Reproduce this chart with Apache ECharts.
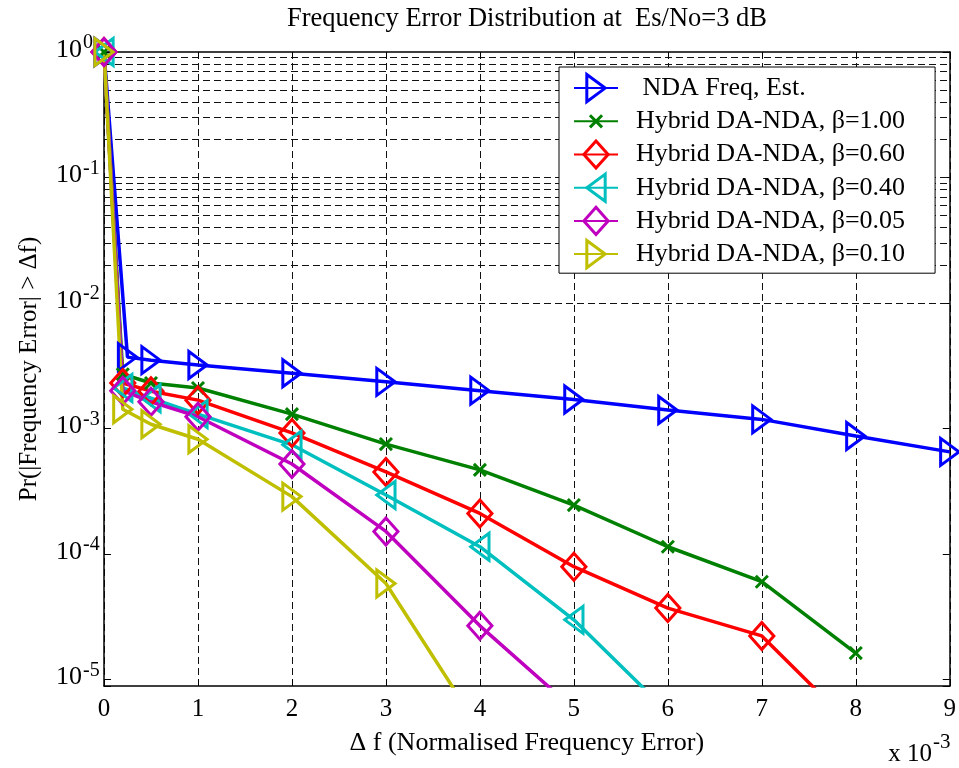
<!DOCTYPE html>
<html>
<head>
<meta charset="utf-8">
<script src="https://cdn.jsdelivr.net/npm/echarts@6/dist/echarts.min.js"></script>
<style>
  html, body { margin: 0; padding: 0; background: #fff; }
  #chart { width: 959px; height: 768px; }
</style>
</head>
<body>
<div id="chart"></div>
<script>
// Frequency-error tail probabilities, Pr(|error| > Δf), Δf in units of 1e-3
const seriesNames = [
  ' NDA Freq, Est.',
  'Hybrid DA-NDA, β=1.00',
  'Hybrid DA-NDA, β=0.60',
  'Hybrid DA-NDA, β=0.40',
  'Hybrid DA-NDA, β=0.05',
  'Hybrid DA-NDA, β=0.10'
];

const xNda = [0, 0.25, 0.5, 1, 2, 3, 4, 5, 6, 7, 8, 9];
const ndaValues = [1, 3.7e-3, 3.5e-3, 3.2e-3, 2.75e-3, 2.35e-3, 2.0e-3, 1.7e-3, 1.4e-3, 1.18e-3, 8.7e-4, 6.5e-4];

const xHybrid = [0, 0.2, 0.5, 1, 2, 3, 4, 5, 6, 7, 8];
const beta100 = [1, 2.7e-3, 2.3e-3, 2.1e-3, 1.3e-3, 7.5e-4, 4.67e-4, 2.45e-4, 1.14e-4, 6.0e-5, 1.62e-5];
const beta060 = [1, 2.3e-3, 1.98e-3, 1.68e-3, 9.2e-4, 4.5e-4, 2.1e-4, 7.9e-5, 3.7e-5, 2.22e-5, 4.0e-6];
const beta040 = [1, 2.1e-3, 1.74e-3, 1.3e-3, 7.4e-4, 2.95e-4, 1.14e-4, 2.98e-5, 5.5e-6];
const beta005 = [1, 2.0e-3, 1.63e-3, 1.24e-3, 5.2e-4, 1.51e-4, 2.67e-5, 5.8e-6];
const beta010 = [1, 1.42e-3, 1.08e-3, 8.2e-4, 2.86e-4, 5.8e-5, 4.0e-6];

const xTicks = [0, 1, 2, 3, 4, 5, 6, 7, 8, 9];
const decadeExponents = [-5, -4, -3, -2, -1, 0];
const minorMultipliers = [2, 3, 4, 5, 6, 7, 8, 9];

const FONT = 'Liberation Serif';
const colors = ['#0000ff', '#008000', '#ff0000', '#00bfbf', '#bf00bf', '#bfbf00'];

// Marker outlines; extra move-to points widen the box so the shapes keep their proportions
const TRI_RIGHT = 'path://M-0.24,0M1.24,0M0,0L1,0.5L0,1Z';
const TRI_LEFT = 'path://M-0.24,0M1.24,0M1,0L0,0.5L1,1Z';
const DIAMOND = 'path://M-0.06,0.5M1.06,0.5M0.5,0L1,0.5L0.5,1L0,0.5Z';
const CROSS = 'path://M-0.62,-0.62M1.62,1.62M0,0L1,1M1,0L0,1';

const yMin = Math.pow(10, -5.053);
const yMax = 1;

const gridDash = { type: [7, 4], color: '#111', width: 1 };

// Horizontal log grid: decades plus 2..9 subdivisions
const hLines = [];
decadeExponents.slice(0, -1).forEach(e => {
  hLines.push(Math.pow(10, e));
  minorMultipliers.forEach(m => hLines.push(m * Math.pow(10, e)));
});

function decadeExponent(v) {
  const e = Math.log10(v);
  const r = Math.round(e);
  return Math.abs(e - r) > 1e-6 ? null : r;
}

function pairs(xs, ys) {
  return ys.map((y, i) => [xs[i], y]);
}

function curve(name, color, symbol, xs, ys) {
  return {
    name: name,
    type: 'line',
    data: pairs(xs, ys),
    symbol: symbol,
    symbolSize: 27,
    showAllSymbol: true,
    clip: true,
    lineStyle: { color: color, width: 3.5 },
    itemStyle: { color: 'transparent', borderColor: color, borderWidth: 3 },
    emphasis: { disabled: true },
    z: 3
  };
}

const axisBox = {
  axisLine: { show: true, onZero: false, lineStyle: { color: '#000', width: 1.5 } },
  axisTick: { show: true, inside: true, length: 7, lineStyle: { color: '#000' } }
};

const chart = echarts.init(document.getElementById('chart'), null, { renderer: 'canvas' });

chart.setOption({
  animation: false,
  backgroundColor: '#fff',
  grid: { left: 104, top: 52, width: 846, height: 634, containLabel: false },
  graphic: [
    {
      type: 'text', x: 527, y: 19,
      style: {
        text: 'Frequency Error Distribution at  Es/No=3 dB',
        fontFamily: FONT, fontSize: 26.5, fill: '#000',
        align: 'center', verticalAlign: 'middle'
      }
    },
    {
      type: 'text', x: 932, y: 754,
      style: { text: 'x 10', fontFamily: FONT, fontSize: 25, fill: '#000', align: 'right', verticalAlign: 'middle' }
    },
    {
      type: 'text', x: 933, y: 742,
      style: { text: '-3', fontFamily: FONT, fontSize: 21, fill: '#000', align: 'left', verticalAlign: 'middle' }
    }
  ],
  legend: {
    data: seriesNames,
    orient: 'vertical',
    left: 559,
    top: 67,
    z: 10,
    padding: [6, 30, 4, 14],
    itemWidth: 44,
    itemHeight: 34,
    itemGap: 3,
    backgroundColor: '#fff',
    borderColor: '#000',
    borderWidth: 1,
    selectedMode: false,
    itemStyle: { borderWidth: 3 },
    formatter: name => '  ' + name,
    textStyle: { fontFamily: FONT, fontSize: 26, color: '#000' }
  },
  xAxis: [
    Object.assign({
      type: 'value', min: 0, max: 9, interval: 1, position: 'bottom',
      name: 'Δ f (Normalised Frequency Error)',
      nameLocation: 'middle', nameGap: 44,
      nameTextStyle: { fontFamily: FONT, fontSize: 26, color: '#000' },
      axisLabel: { fontFamily: FONT, fontSize: 25, color: '#000', margin: 11,
                   formatter: v => xTicks.indexOf(v) >= 0 ? String(v) : '' },
      splitLine: { show: true, lineStyle: gridDash }
    }, axisBox),
    Object.assign({
      type: 'value', min: 0, max: 9, interval: 1, position: 'top',
      axisLabel: { show: false },
      splitLine: { show: false }
    }, axisBox)
  ],
  yAxis: [
    // left axis: mantissa "10" of each decade label
    Object.assign({
      type: 'log', logBase: 10, min: yMin, max: yMax, position: 'left',
      name: 'Pr(|Frequency Error| > Δf)',
      nameLocation: 'middle', nameGap: 62, nameRotate: 90,
      nameTextStyle: { fontFamily: FONT, fontSize: 25, color: '#000' },
      axisLabel: {
        fontFamily: FONT, fontSize: 26, color: '#000',
        margin: 22, align: 'right',
        verticalAlign: 'bottom', lineHeight: 4,
        formatter: v => decadeExponent(v) === null ? '' : '10'
      },
      splitLine: { show: false },
      minorTick: { show: false }
    }, axisBox),
    // right side of the frame
    Object.assign({
      type: 'log', logBase: 10, min: yMin, max: yMax, position: 'right',
      axisLabel: { show: false },
      splitLine: { show: false }
    }, axisBox),
    // exponents written as superscripts beside the mantissa
    {
      type: 'log', logBase: 10, min: yMin, max: yMax, position: 'left', offset: 0,
      axisLine: { show: false },
      axisTick: { show: false },
      splitLine: { show: false },
      axisLabel: {
        fontFamily: FONT, fontSize: 20, color: '#000',
        margin: 21, align: 'left',
        verticalAlign: 'bottom', lineHeight: 18,
        formatter: v => {
          const r = decadeExponent(v);
          return r === null ? '' : String(r);
        }
      }
    }
  ],
  series: [
    {
      name: 'grid',
      type: 'line',
      data: [],
      silent: true,
      z: 1,
      markLine: {
        silent: true,
        z: 1,
        symbol: ['none', 'none'],
        label: { show: false },
        lineStyle: gridDash,
        emphasis: { disabled: true },
        data: hLines.map(v => ({ yAxis: v }))
      }
    },
    curve(seriesNames[0], colors[0], TRI_RIGHT, xNda, ndaValues),
    curve(seriesNames[1], colors[1], CROSS, xHybrid, beta100),
    curve(seriesNames[2], colors[2], DIAMOND, xHybrid, beta060),
    curve(seriesNames[3], colors[3], TRI_LEFT, xHybrid, beta040),
    curve(seriesNames[4], colors[4], DIAMOND, xHybrid, beta005),
    curve(seriesNames[5], colors[5], TRI_RIGHT, xHybrid, beta010)
  ]
});
</script>
</body>
</html>
